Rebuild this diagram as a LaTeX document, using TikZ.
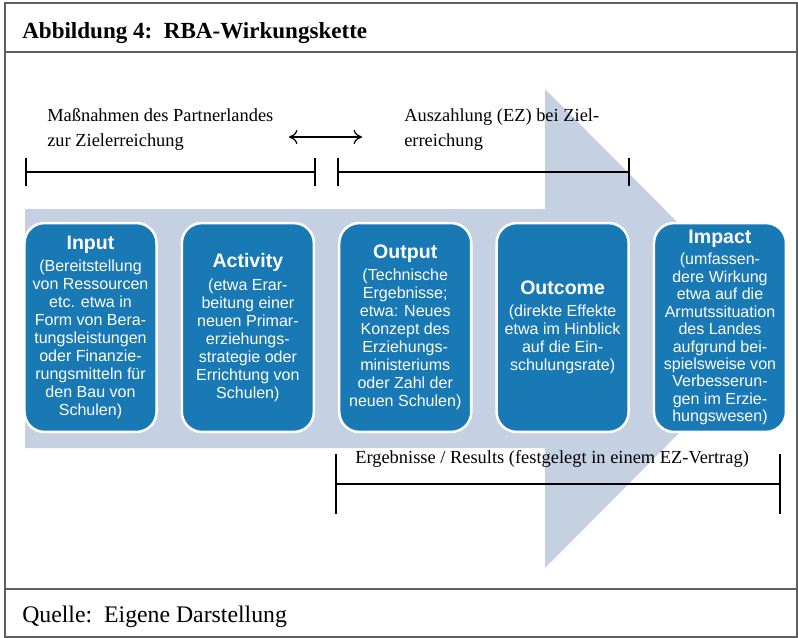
\documentclass[tikz,border=0pt]{standalone}
\usepackage{fontspec}
\setmainfont{Liberation Serif}
\setsansfont{Liberation Sans}
\usepackage{xcolor}
\usepackage{tikz}
\usetikzlibrary{arrows.meta,positioning}
\definecolor{chainblue}{RGB}{24,121,180}
\definecolor{arrowgrey}{RGB}{197,208,226}
\definecolor{framegrey}{RGB}{95,95,95}
\tikzset{
  stagebox/.style={draw=white, line width=1.8pt, fill=chainblue, text=white,
                   rounded corners=0.5cm, minimum width=3.3cm, minimum height=5.22cm,
                   align=center, inner sep=0pt,
                   font=\fontsize{11.4}{12.8}\selectfont\sffamily},
  spanline/.style={line width=1.1pt},
  notetext/.style={font=\fontsize{13.1}{17.8}\selectfont, align=left, inner sep=0pt},
  framebox/.style={draw=framegrey, line width=1.4pt}
}
\newcommand{\stagehead}[1]{{\fontsize{13.9}{16}\selectfont\bfseries #1}\\[3pt]}

\begin{document}
\begin{tikzpicture}[x=0.025cm, y=-0.025cm]
    \useasboundingbox (0,0) rectangle (798,638);
    \def\yS{327.5}

    % frame
    \draw[framebox] (5,3) rectangle (797,637);
    \draw[framebox] (5,52) -- (797,52);
    \draw[framebox] (5,589) -- (797,589);
    \node[font=\fontsize{16.4}{19}\selectfont\bfseries, anchor=base west, inner sep=0pt]
      (title) at (22,38) {Abbildung 4:\ \ RBA-Wirkungskette};
    \node[font=\fontsize{16.9}{19}\selectfont, anchor=base west, inner sep=0pt]
      (source) at (22,622) {Quelle:\ \ Eigene Darstellung};

    % big arrow
    \fill[arrowgrey] (25,209) -- (545,209) -- (545,89) -- (783,328.5)
      -- (545,568) -- (545,448) -- (25,448) -- cycle;

    % top spans
    \node[notetext, anchor=north west] (measures) at (47,108)
      {Maßnahmen des Partnerlandes\\zur Zielerreichung};
    \node[notetext, anchor=north west] (payout) at (404,108)
      {Auszahlung (EZ) bei Ziel-\\erreichung};
    \coordinate (swL) at (289,137);
    \coordinate (swR) at (362,137);
    \draw[{To[length=6pt,width=10pt]}-{To[length=6pt,width=10pt]}, line width=0.9pt] (swL) -- (swR);

    \coordinate (mL) at (25,172);  \coordinate (mR) at (316,172);
    \coordinate (aL) at (337,172); \coordinate (aR) at (630,172);
    \draw[spanline, {Bar[width=20.5pt]}-{Bar[width=20.5pt]}] (mL) -- (mR);
    \draw[spanline, {Bar[width=20.5pt]}-{Bar[width=20.5pt]}] (aL) -- (aR);

    % results span
    \node[notetext, anchor=base west] (results) at (355,463)
      {Ergebnisse / Results (festgelegt in einem EZ-Vertrag)};
    \coordinate (rL) at (335,484); \coordinate (rR) at (781,484);
    \draw[spanline, {Bar[width=42.5pt]}-{Bar[width=42.5pt]}] (rL) -- (rR);

    % stages
    \node[stagebox] (input) at (90.5,\yS) {\stagehead{Input}
      (Bereitstellung\\von Ressourcen\\etc. etwa in\\Form von Bera-\\tungsleistungen\\
      oder Finanzie-\\rungsmitteln für\\den Bau von\\Schulen)};
    \node[stagebox, right=0.57cm of input] (activity) {\stagehead{Activity}
      (etwa Erar-\\beitung einer\\neuen Primar-\\erziehungs-\\strategie oder\\
      Errichtung von\\Schulen)};
    \node[stagebox, right=0.57cm of activity] (output) {\stagehead{Output}
      (Technische\\Ergebnisse;\\etwa: Neues\\Konzept des\\Erziehungs-\\ministeriums\\
      oder Zahl der\\neuen Schulen)};
    \node[stagebox, right=0.57cm of output] (outcome) {\stagehead{Outcome}
      (direkte Effekte\\etwa im Hinblick\\auf die Ein-\\schulungsrate)};
    \node[stagebox, right=0.57cm of outcome, font=\fontsize{11.4}{12.4}\selectfont\sffamily]
      (impact) {\stagehead{Impact}
      (umfassen-\\dere Wirkung\\etwa auf die\\Armutssituation\\des Landes\\
      aufgrund bei-\\spielsweise von\\Verbesserun-\\gen im Erzie-\\hungswesen)};
\end{tikzpicture}
\end{document}
